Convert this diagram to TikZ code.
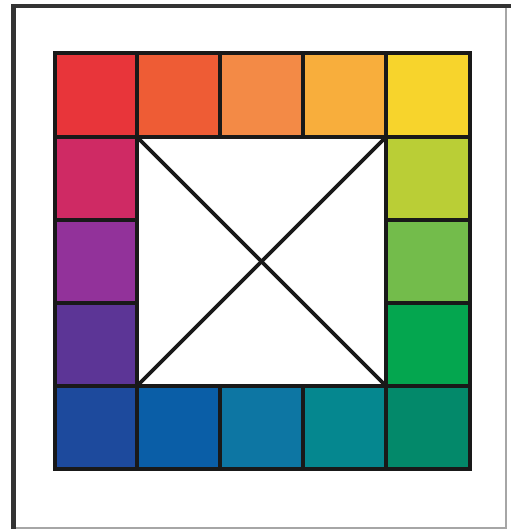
\documentclass[tikz,border=0pt]{standalone}
\begin{document}
\begin{tikzpicture}[x=1pt,y=-1pt,
  grid/.style={draw=black!90,line width=3.2pt}]
\useasboundingbox (0,0) rectangle (511,529);
\fill[white] (0,0) rectangle (511,529);
% outer frame
\draw[black!80,line width=4.5pt] (13.5,529) -- (13.5,6) -- (511,6);
\draw[black!35,line width=1.2pt] (506,8) -- (506,528) -- (16,528);
% colours
\definecolor{c1}{HTML}{E8353A}
\definecolor{c2}{HTML}{EE5C35}
\definecolor{c3}{HTML}{F38A46}
\definecolor{c4}{HTML}{F8AE3C}
\definecolor{c5}{HTML}{F7D42C}
\definecolor{r1}{HTML}{BACE36}
\definecolor{r2}{HTML}{73BC4B}
\definecolor{r3}{HTML}{04A64F}
\definecolor{b5}{HTML}{03896A}
\definecolor{b4}{HTML}{05878F}
\definecolor{b3}{HTML}{0D76A3}
\definecolor{b2}{HTML}{0A5EA7}
\definecolor{b1}{HTML}{1D4A9D}
\definecolor{l3}{HTML}{5C3596}
\definecolor{l2}{HTML}{92329A}
\definecolor{l1}{HTML}{CF2A64}
% top row
\fill[c1] (55,53) rectangle (137,137);
\fill[c2] (137,53) rectangle (220,137);
\fill[c3] (220,53) rectangle (303,137);
\fill[c4] (303,53) rectangle (386,137);
\fill[c5] (386,53) rectangle (470,137);
% right column
\fill[r1] (386,137) rectangle (470,220);
\fill[r2] (386,220) rectangle (470,303);
\fill[r3] (386,303) rectangle (470,386);
% bottom row
\fill[b5] (386,386) rectangle (470,469);
\fill[b4] (303,386) rectangle (386,469);
\fill[b3] (220,386) rectangle (303,469);
\fill[b2] (137,386) rectangle (220,469);
\fill[b1] (55,386) rectangle (137,469);
% left column
\fill[l3] (55,303) rectangle (137,386);
\fill[l2] (55,220) rectangle (137,303);
\fill[l1] (55,137) rectangle (137,220);
% grid lines
\draw[grid] (55,53) rectangle (470,469);
\draw[grid] (137,137) rectangle (386,386);
\foreach \x in {137,220,303,386} {
  \draw[grid] (\x,53) -- (\x,137);
  \draw[grid] (\x,386) -- (\x,469);
}
\foreach \y in {137,220,303,386} {
  \draw[grid] (55,\y) -- (137,\y);
  \draw[grid] (386,\y) -- (470,\y);
}
% inner square
\coordinate (tl) at (137,137);
\coordinate (tr) at (386,137);
\coordinate (bl) at (137,386);
\coordinate (br) at (386,386);
\draw[grid,line width=3.6pt] (tl) -- (br);
\draw[grid,line width=3.6pt] (tr) -- (bl);
\end{tikzpicture}
\end{document}
